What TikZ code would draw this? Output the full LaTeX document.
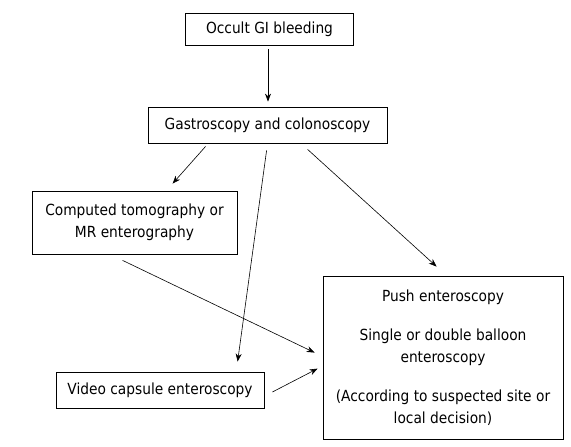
\documentclass[tikz,border=0pt]{standalone}
\usepackage{fontspec}
\setmainfont{DejaVu Sans}[FakeStretch=0.9]
\usetikzlibrary{arrows.meta}
\begin{document}
\begin{tikzpicture}[x=1pt,y=-1pt,
  box/.style={draw, line width=0.8pt, inner sep=0pt, align=center, font=\fontsize{15.3}{21.5}\selectfont},
  arr/.style={-{Stealth[length=8pt,width=6pt]}, line width=0.6pt}]
\useasboundingbox (0,0) rectangle (571,447);
\node[box, minimum width=168, minimum height=32] (occ) at (269.5,29) {Occult GI bleeding};
\node[box, minimum width=239, minimum height=36] (gas) at (267.5,125) {Gastroscopy and colonoscopy};
\node[box, minimum width=205, minimum height=63] (ct) at (134.5,222.5) {Computed tomography or\\MR enterography};
\node[box, minimum width=208, minimum height=36] (vce) at (160,390) {Video capsule enteroscopy};
\node[box, minimum width=240, minimum height=163] (push) at (443,357.5) {Push enteroscopy\\[18pt]Single or double balloon\\enteroscopy\\[18pt](According to suspected site or\\local decision)};
\draw[arr] ([shift={(-1.5,4)}]occ.south) -- ([shift={(0.5,-5)}]gas.north);
\draw[arr] ([shift={(58,3)}]gas.south west) -- ([shift={(141,-7)}]ct.north west);
\draw[arr] ([shift={(119,7)}]gas.south west) -- ([shift={(182,-10)}]vce.north west);
\draw[arr] ([shift={(160,6)}]gas.south west) -- ([shift={(114,-9)}]push.north west);
\draw[arr] ([shift={(91,6)}]ct.south west) -- ([shift={(-8,77)}]push.north west);
\draw[arr] ([shift={(8,2)}]vce.east) -- ([shift={(-5,93)}]push.north west);
\end{tikzpicture}
\end{document}
